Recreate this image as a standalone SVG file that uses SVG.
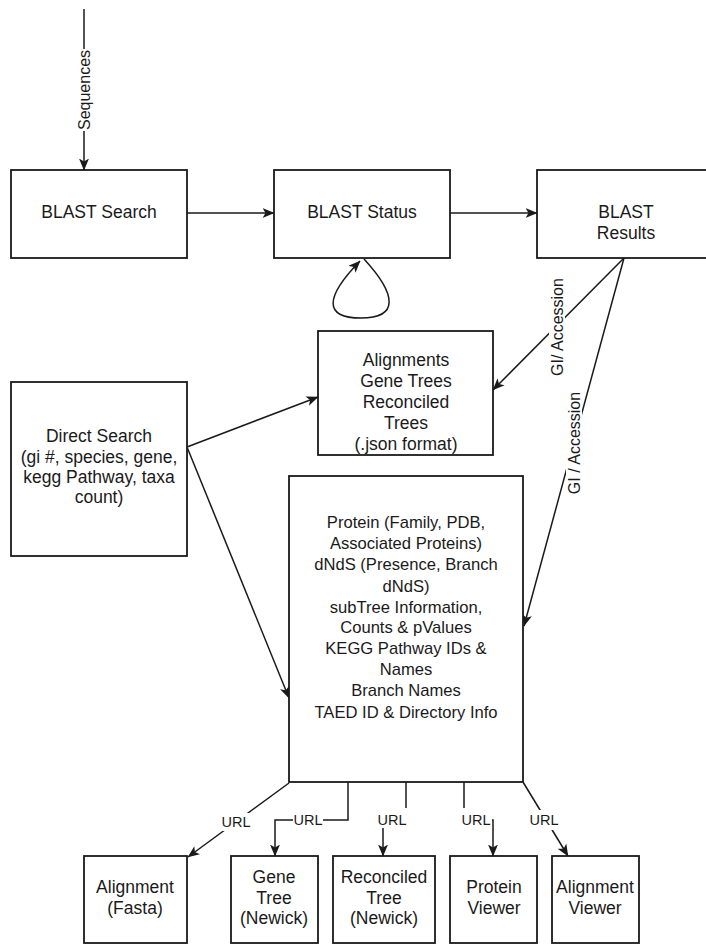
<svg xmlns="http://www.w3.org/2000/svg" width="706" height="944" viewBox="0 0 706 944">
<style>
.box{fill:#fff;stroke:#1a1a1a;stroke-width:1.8}
.t{font-family:"Liberation Sans",Arial,sans-serif;font-size:17.5px;fill:#1a1a1a;text-anchor:middle;dominant-baseline:central}
.tb{font-size:16.6px}
.e{fill:none;stroke:#1a1a1a;stroke-width:1.5}
.lbl{font-family:"Liberation Sans",Arial,sans-serif;font-size:16px;fill:#1a1a1a;text-anchor:middle;dominant-baseline:central}
.url{font-size:14.5px}
.bg{fill:#fff;stroke:none}
</style>
<defs>
<marker id="arr" viewBox="0 0 12 10" refX="11.5" refY="5" markerWidth="12" markerHeight="10" orient="auto" markerUnits="userSpaceOnUse">
<path d="M0,0 L12,5 L0,10 L3,5 Z" fill="#1a1a1a"/>
</marker>
</defs>
<rect width="706" height="944" fill="#fff"/>

<g id="connectors">
<line class="e" x1="84" y1="9" x2="84" y2="170" marker-end="url(#arr)"/>
<rect class="bg" x="76" y="49" width="16" height="82"/>
<text class="lbl" transform="translate(84,90) rotate(-90)">Sequences</text>

<line class="e" x1="187" y1="213" x2="274" y2="213" marker-end="url(#arr)"/>
<line class="e" x1="450" y1="213" x2="537" y2="213" marker-end="url(#arr)"/>
<path class="e" d="M364 259 C398 296 398 318 361 318 C324 318 324 298 360 261" marker-end="url(#arr)"/>

<line class="e" x1="624" y1="258" x2="493" y2="390" marker-end="url(#arr)"/>
<rect class="bg" x="549" y="275" width="16" height="104"/>
<text class="lbl" transform="translate(557,327) rotate(-90)">GI/ Accession</text>

<line class="e" x1="624" y1="258" x2="524" y2="626" marker-end="url(#arr)"/>
<rect class="bg" x="566" y="390" width="16" height="106"/>
<text class="lbl" transform="translate(574,443) rotate(-90)">GI / Accession</text>

<line class="e" x1="187" y1="447" x2="318" y2="397" marker-end="url(#arr)"/>
<line class="e" x1="187" y1="447" x2="289" y2="698" marker-end="url(#arr)"/>

<line class="e" x1="289" y1="783" x2="188" y2="857" marker-end="url(#arr)"/>
<rect class="bg" x="221" y="813" width="30" height="18"/>
<text class="lbl url" x="236" y="822">URL</text>

<path class="e" d="M348 782 V820 H275 V856" marker-end="url(#arr)"/>
<rect class="bg" x="293" y="811" width="30" height="18"/>
<text class="lbl url" x="308" y="820">URL</text>

<path class="e" d="M406 782 V820 H383 V856" marker-end="url(#arr)"/>
<rect class="bg" x="376" y="808" width="32" height="20"/>
<text class="lbl url" x="392" y="820">URL</text>

<path class="e" d="M464 782 V820 H493 V856" marker-end="url(#arr)"/>
<rect class="bg" x="461" y="808" width="31" height="20"/>
<text class="lbl url" x="476" y="820">URL</text>

<line class="e" x1="523" y1="782" x2="568" y2="856" marker-end="url(#arr)"/>
<rect class="bg" x="529" y="810" width="31" height="20"/>
<text class="lbl url" x="544" y="820">URL</text>
</g>

<g id="blast-search">
<rect class="box" x="11" y="170" width="176" height="88"/>
<text class="t" x="99" y="212">BLAST Search</text>
</g>
<g id="blast-status">
<rect class="box" x="274" y="170" width="176" height="88"/>
<text class="t" x="362" y="212">BLAST Status</text>
</g>
<g id="blast-results">
<rect class="box" x="537" y="170" width="176" height="88"/>
<text class="t" x="626" y="212">BLAST</text>
<text class="t" x="626" y="233">Results</text>
</g>
<g id="alignments">
<rect class="box" x="318" y="331" width="175" height="124"/>
<text class="t" x="406" y="360">Alignments</text>
<text class="t" x="406" y="381">Gene Trees</text>
<text class="t" x="406" y="402">Reconciled</text>
<text class="t" x="406" y="423">Trees</text>
<text class="t" x="406" y="444">(.json format)</text>
</g>
<g id="direct-search">
<rect class="box" x="11" y="382" width="176" height="174"/>
<text class="t" x="99" y="436">Direct Search</text>
<text class="t" x="99" y="457">(gi #, species, gene,</text>
<text class="t" x="99" y="477">kegg Pathway, taxa</text>
<text class="t" x="99" y="497">count)</text>
</g>
<g id="info">
<rect class="box" x="289" y="476" width="234" height="306"/>
<text class="t tb" x="406" y="522">Protein (Family, PDB,</text>
<text class="t tb" x="406" y="543">Associated Proteins)</text>
<text class="t tb" x="406" y="564">dNdS (Presence, Branch</text>
<text class="t tb" x="406" y="586">dNdS)</text>
<text class="t tb" x="406" y="607">subTree Information,</text>
<text class="t tb" x="406" y="627">Counts &amp; pValues</text>
<text class="t tb" x="406" y="648">KEGG Pathway IDs &amp;</text>
<text class="t tb" x="406" y="669">Names</text>
<text class="t tb" x="406" y="690">Branch Names</text>
<text class="t tb" x="406" y="712">TAED ID &amp; Directory Info</text>
</g>
<g id="alignment-fasta">
<rect class="box" x="84" y="856" width="103" height="87"/>
<text class="t" x="135" y="887">Alignment</text>
<text class="t" x="135" y="908">(Fasta)</text>
</g>
<g id="gene-tree">
<rect class="box" x="231" y="856" width="87" height="87"/>
<text class="t" x="274" y="877">Gene</text>
<text class="t" x="274" y="898">Tree</text>
<text class="t" x="274" y="918">(Newick)</text>
</g>
<g id="reconciled-tree">
<rect class="box" x="333" y="856" width="102" height="87"/>
<text class="t" x="384" y="877">Reconciled</text>
<text class="t" x="384" y="898">Tree</text>
<text class="t" x="384" y="918">(Newick)</text>
</g>
<g id="protein-viewer">
<rect class="box" x="450" y="856" width="87" height="87"/>
<text class="t" x="494" y="887">Protein</text>
<text class="t" x="494" y="908">Viewer</text>
</g>
<g id="alignment-viewer">
<rect class="box" x="552" y="856" width="87" height="87"/>
<text class="t" x="595" y="887">Alignment</text>
<text class="t" x="595" y="908">Viewer</text>
</g>
</svg>
